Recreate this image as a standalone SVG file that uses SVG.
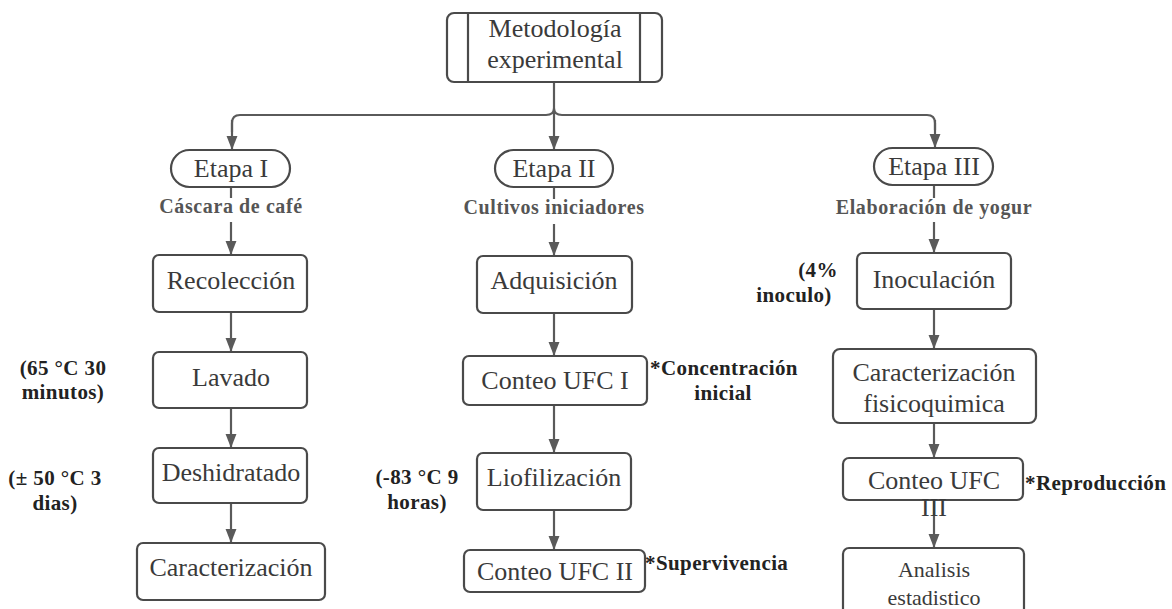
<svg xmlns="http://www.w3.org/2000/svg" width="1172" height="609" viewBox="0 0 1172 609">
<defs>
<marker id="ah" markerUnits="userSpaceOnUse" markerWidth="14" markerHeight="18" refX="18" refY="7" orient="auto" viewBox="0 0 18 14">
<path d="M0,0 L18,7 L0,14 Z" fill="#5a5a5a"/>
</marker>
<style>
.box{fill:#fff;stroke:#4a4a4a;stroke-width:2.2}
.t{font-family:"Liberation Serif","Times New Roman",serif;font-size:26px;fill:#3a3a3a;text-anchor:middle}
.s{font-family:"Liberation Serif","Times New Roman",serif;font-size:22px;fill:#3a3a3a;text-anchor:middle}
.g{font-family:"Liberation Serif","Times New Roman",serif;font-size:20px;font-weight:bold;fill:#555;text-anchor:middle;letter-spacing:0.6px}
.b{font-family:"Liberation Serif","Times New Roman",serif;font-size:21px;font-weight:bold;fill:#222;letter-spacing:0.4px}
.c{fill:none;stroke:#5a5a5a;stroke-width:2.2}
.ca{fill:none;stroke:#5a5a5a;stroke-width:2.2;marker-end:url(#ah)}
</style>
</defs>
<rect width="1172" height="609" fill="#fff"/>
<g id="connectors">
<path class="c" d="M232,132 V123 Q232,115 240,115 H546 Q554,115 554,108 Q554,115 562,115 H927 Q935,115 935,123 V130"/>
<path class="c" d="M554,82 V108"/>
<path class="ca" d="M232,120 V150"/>
<path class="ca" d="M554,110 V150"/>
<path class="ca" d="M935,120 V148"/>
<path class="c" d="M231,187 V198"/>
<path class="c" d="M554,187 V199"/>
<path class="c" d="M934,185 V198"/>
<path class="ca" d="M231,222 V255"/>
<path class="ca" d="M554,224 V256"/>
<path class="ca" d="M934,222 V253"/>
<path class="ca" d="M231,312 V352"/>
<path class="ca" d="M231,408 V448"/>
<path class="ca" d="M231,503 V543"/>
<path class="ca" d="M554,313 V356"/>
<path class="ca" d="M554,405 V453"/>
<path class="ca" d="M554,510 V550"/>
<path class="ca" d="M934,309 V349"/>
<path class="ca" d="M934,423 V458"/>
<path class="ca" d="M934,500 V548"/>
</g>
<g id="metodologia">
<rect class="box" x="447" y="13" width="215" height="69" rx="7"/>
<line class="box" x1="468" y1="13" x2="468" y2="82"/>
<line class="box" x1="640" y1="13" x2="640" y2="82"/>
<text class="t" x="555" y="37">Metodología</text>
<text class="t" x="555" y="68">experimental</text>
</g>
<g id="etapa1">
<rect class="box" x="171" y="150" width="119" height="37" rx="18.5"/>
<text class="t" x="231" y="177">Etapa I</text>
</g>
<g id="etapa2">
<rect class="box" x="495" y="150" width="118" height="37" rx="18.5"/>
<text class="t" x="554" y="177">Etapa II</text>
</g>
<g id="etapa3">
<rect class="box" x="874" y="148" width="119" height="37" rx="18.5"/>
<text class="t" x="934" y="175">Etapa III</text>
</g>
<g id="labels-grey">
<text class="g" x="231" y="213">Cáscara de café</text>
<text class="g" x="554" y="214">Cultivos iniciadores</text>
<text class="g" x="934" y="214">Elaboración de yogur</text>
</g>
<g id="recoleccion">
<rect class="box" x="153" y="255" width="154" height="57" rx="6"/>
<text class="t" x="231" y="289">Recolección</text>
</g>
<g id="lavado">
<rect class="box" x="153" y="352" width="154" height="56" rx="6"/>
<text class="t" x="231" y="386">Lavado</text>
</g>
<g id="deshidratado">
<rect class="box" x="153" y="448" width="154" height="55" rx="6"/>
<text class="t" x="231" y="481">Deshidratado</text>
</g>
<g id="caracterizacion">
<rect class="box" x="137" y="543" width="188" height="57" rx="6"/>
<text class="t" x="231" y="576">Caracterización</text>
</g>
<g id="adquisicion">
<rect class="box" x="477" y="256" width="155" height="57" rx="6"/>
<text class="t" x="554" y="289">Adquisición</text>
</g>
<g id="conteo1">
<rect class="box" x="463" y="356" width="184" height="49" rx="6"/>
<text class="t" x="555" y="389">Conteo UFC I</text>
</g>
<g id="liofilizacion">
<rect class="box" x="477" y="453" width="154" height="57" rx="6"/>
<text class="t" x="554" y="486">Liofilización</text>
</g>
<g id="conteo2">
<rect class="box" x="464" y="550" width="181" height="42" rx="6"/>
<text class="t" x="555" y="580">Conteo UFC II</text>
</g>
<g id="inoculacion">
<rect class="box" x="857" y="253" width="154" height="56" rx="6"/>
<text class="t" x="934" y="288">Inoculación</text>
</g>
<g id="fisicoquimica">
<rect class="box" x="833" y="349" width="203" height="74" rx="7"/>
<text class="t" x="934" y="381">Caracterización</text>
<text class="t" x="934" y="412">fisicoquimica</text>
</g>
<g id="conteo3">
<rect class="box" x="843" y="458" width="180" height="42" rx="6"/>
<text class="t" x="934" y="489">Conteo UFC</text>
<text class="t" x="934" y="516">III</text>
</g>
<g id="analisis">
<rect class="box" x="843" y="548" width="181" height="70" rx="6"/>
<text class="s" x="934" y="577">Analisis</text>
<text class="s" x="934" y="605">estadistico</text>
</g>
<g id="annotations">
<text class="b" x="63" y="375" text-anchor="middle">(65 °C 30</text>
<text class="b" x="63" y="399" text-anchor="middle">minutos)</text>
<text class="b" x="55" y="485" text-anchor="middle">(± 50 °C 3</text>
<text class="b" x="55" y="510" text-anchor="middle">dias)</text>
<text class="b" x="417" y="484" text-anchor="middle">(-83 °C 9</text>
<text class="b" x="417" y="509" text-anchor="middle">horas)</text>
<text class="b" x="818" y="277" text-anchor="middle">(4%</text>
<text class="b" x="794" y="302" text-anchor="middle">inoculo)</text>
<text class="b" x="724" y="375" text-anchor="middle">*Concentración</text>
<text class="b" x="723" y="400" text-anchor="middle">inicial</text>
<text class="b" x="645" y="570">*Supervivencia</text>
<text class="b" x="1025" y="490">*Reproducción</text>
</g>
</svg>
